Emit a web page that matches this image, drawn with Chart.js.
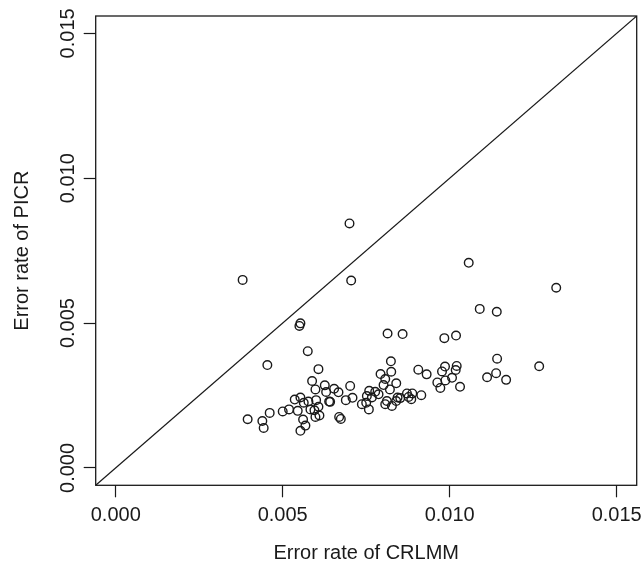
<!DOCTYPE html>
<html>
<head>
<meta charset="utf-8">
<script src="https://cdn.jsdelivr.net/npm/chart.js@4"></script>
<style>
html,body{margin:0;padding:0;background:#fff;}
canvas{display:block;}
</style>
</head>
<body>
<canvas id="c" width="644" height="563"></canvas>
<script>
// Error rates (CRLMM on x, PICR on y)
const crlmm = [0.00380,0.00700,0.00705,0.00553,0.00550,0.00575,0.00454,0.00814,0.00859,0.01057,
0.01319,0.01090,0.01141,0.00984,0.01019,0.01142,0.01268,0.00906,0.00931,0.00986,
0.01021,0.00977,0.01018,0.00963,0.00987,0.01007,0.00972,0.01031,0.01112,0.01139,
0.01169,0.00872,0.00888,0.00885,0.00915,0.00852,0.00607,0.00588,0.00626,0.00598,
0.00630,0.00639,0.00536,0.00553,0.00563,0.00577,0.00600,0.00519,0.00500,0.00545,
0.00461,0.00395,0.00439,0.00443,0.00561,0.00568,0.00553,0.00595,0.00607,0.00598,
0.00610,0.00583,0.00654,0.00667,0.00642,0.00702,0.00689,0.00709,0.00669,0.00674,
0.00824,0.00825,0.00793,0.00807,0.00840,0.00821,0.00759,0.00787,0.00752,0.00750,
0.00737,0.00758,0.00812,0.00807,0.00827,0.00840,0.00877,0.00802,0.00777,0.00844,
0.00767];
const picr = [0.00649,0.00844,0.00647,0.00499,0.00490,0.00403,0.00355,0.00464,0.00462,0.00708,
0.00622,0.00549,0.00539,0.00448,0.00457,0.00377,0.00351,0.00339,0.00323,0.00350,
0.00352,0.00333,0.00338,0.00295,0.00302,0.00311,0.00276,0.00280,0.00313,0.00327,
0.00304,0.00257,0.00257,0.00237,0.00251,0.00241,0.00341,0.00300,0.00285,0.00271,
0.00262,0.00229,0.00236,0.00243,0.00225,0.00229,0.00234,0.00202,0.00195,0.00197,
0.00190,0.00168,0.00162,0.00138,0.00167,0.00146,0.00128,0.00199,0.00211,0.00176,
0.00181,0.00202,0.00273,0.00261,0.00228,0.00283,0.00234,0.00242,0.00176,0.00169,
0.00368,0.00332,0.00324,0.00307,0.00292,0.00271,0.00266,0.00254,0.00248,0.00225,
0.00220,0.00202,0.00231,0.00220,0.00214,0.00231,0.00245,0.00286,0.00263,0.00243,
0.00243];
const xTickValues = [0, 0.005, 0.010, 0.015];
const xTickLabels = ["0.000", "0.005", "0.010", "0.015"];
const yTickValues = [0, 0.005, 0.010, 0.015];
const yTickLabels = ["0.000", "0.005", "0.010", "0.015"];
const axisMin = -0.0006;
const axisMax = 0.0156;
const xTitle = "Error rate of CRLMM";
const yTitle = "Error rate of PICR";

const FONT = "'Liberation Sans', Arial, Helvetica, sans-serif";
const INK = '#1a1a1a';

const points = crlmm.map((x, i) => ({x: x, y: picr[i]}));
// identity line y = x across the axis range
const diag = [{x: axisMin, y: axisMin}, {x: axisMax, y: axisMax}];

const boxPlugin = {
  id: 'box',
  afterDatasetsDraw(chart) {
    const {ctx, chartArea: a} = chart;
    ctx.save();
    ctx.strokeStyle = INK;
    ctx.lineWidth = 1.3;
    ctx.strokeRect(a.left, a.top, a.right - a.left, a.bottom - a.top);
    ctx.restore();
  },
  afterDraw(chart) {
    const {ctx} = chart;
    const ys = chart.scales.y;
    ctx.save();
    ctx.fillStyle = INK;
    ctx.font = '20px ' + FONT;
    ctx.textAlign = 'center';
    ctx.textBaseline = 'middle';
    yTickValues.forEach((v, i) => {
      const py = ys.getPixelForValue(v);
      ctx.save();
      ctx.translate(68.5, py);
      ctx.rotate(-Math.PI / 2);
      ctx.fillText(yTickLabels[i], 0, 0);
      ctx.restore();
    });
    ctx.restore();
  }
};

new Chart(document.getElementById('c'), {
  type: 'scatter',
  data: {
    datasets: [
      {
        data: points,
        showLine: false,
        pointStyle: 'circle',
        pointRadius: 4.3,
        pointHoverRadius: 4.3,
        borderWidth: 1.4,
        borderColor: INK,
        backgroundColor: 'rgba(0,0,0,0)'
      },
      {
        type: 'line',
        data: diag,
        borderColor: INK,
        borderWidth: 1.2,
        pointRadius: 0,
        fill: false,
        tension: 0
      }
    ]
  },
  options: {
    responsive: false,
    animation: false,
    devicePixelRatio: 1,
    layout: {padding: {top: 16, right: 7.3, left: 0, bottom: 0}},
    plugins: {legend: {display: false}, tooltip: {enabled: false}},
    scales: {
      x: {
        type: 'linear',
        min: axisMin,
        max: axisMax,
        afterBuildTicks: s => { s.ticks = xTickValues.map(v => ({value: v})); },
        afterFit: s => { s.height = 77.7; s.paddingLeft = 0; s.paddingRight = 0; },
        ticks: {
          autoSkip: false,
          maxRotation: 0,
          minRotation: 0,
          padding: 6,
          color: INK,
          font: {family: FONT, size: 20},
          callback: (v, i) => xTickLabels[i]
        },
        grid: {drawOnChartArea: false, drawTicks: true, tickLength: 12, tickColor: INK, tickWidth: 1.2},
        border: {display: false},
        title: {display: true, text: xTitle, color: INK, font: {family: FONT, size: 20, lineHeight: 1.0}, padding: {top: 0, bottom: 0}}
      },
      y: {
        type: 'linear',
        min: axisMin,
        max: axisMax,
        afterBuildTicks: s => { s.ticks = yTickValues.map(v => ({value: v})); },
        afterFit: s => { s.width = 95.7; s.paddingTop = 0; s.paddingBottom = 0; },
        ticks: {display: false},
        grid: {drawOnChartArea: false, drawTicks: true, tickLength: 12, tickColor: INK, tickWidth: 1.2},
        border: {display: false},
        title: {display: true, text: yTitle, color: INK, font: {family: FONT, size: 20, lineHeight: 1.0}, padding: {top: 12.5, bottom: 0}}
      }
    }
  },
  plugins: [boxPlugin]
});
</script>
</body>
</html>
